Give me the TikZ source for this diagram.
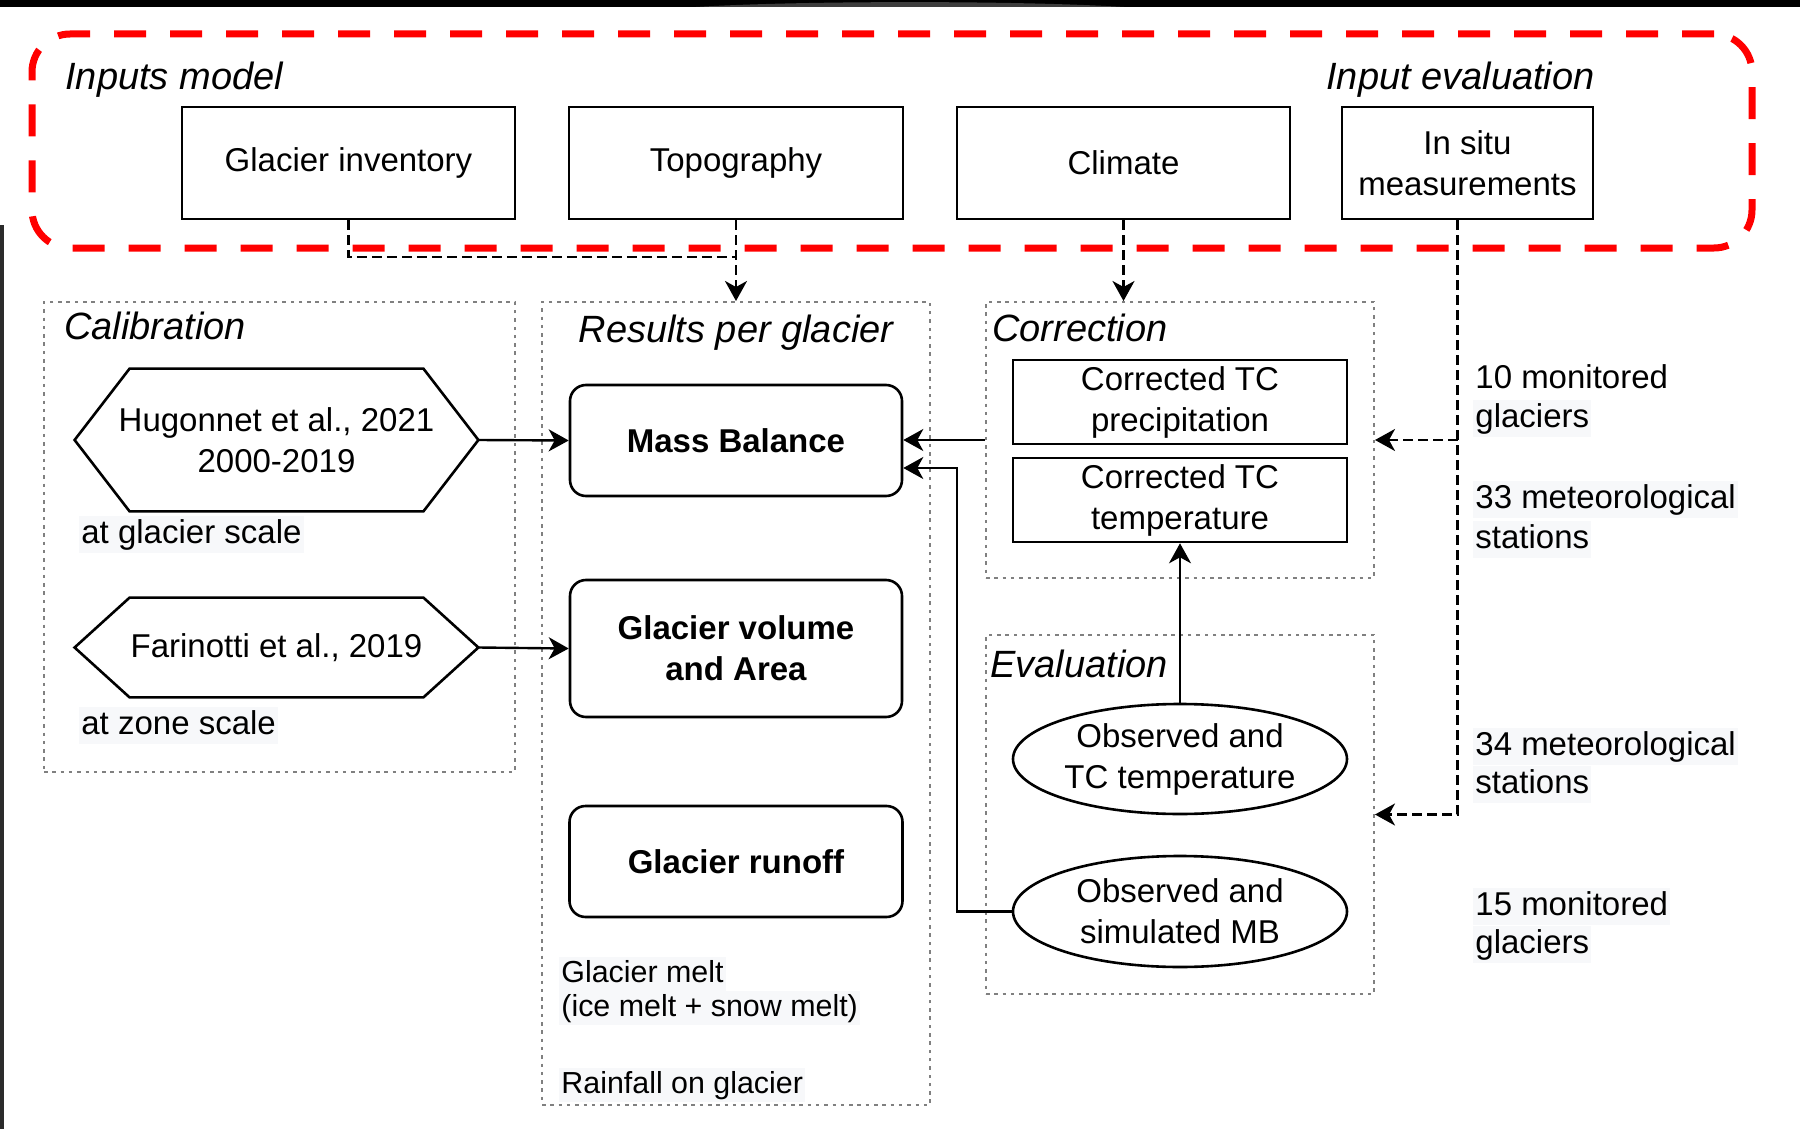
\documentclass[tikz,border=0pt]{standalone}
\usepackage{fontspec}
\setmainfont{Liberation Sans}
\usetikzlibrary{shapes.geometric,arrows.meta}

\definecolor{redline}{HTML}{FF0000}
\definecolor{grpgray}{HTML}{808080}
\definecolor{lblbg}{HTML}{F7F8FA}
\definecolor{edgegray}{HTML}{2B2B2B}
\definecolor{tabgray}{HTML}{3D3D3D}

\newcommand{\boxfont}{\fontsize{16.5pt}{20.5pt}\selectfont}
\newcommand{\smallnotefont}{\fontsize{15.2pt}{19pt}\selectfont}
\newcommand{\headfont}{\fontsize{19pt}{23pt}\selectfont\itshape}

\begin{document}
\begin{tikzpicture}[x=0.5pt, y=-0.5pt,
  inbox/.style={draw, line width=1.3pt, inner sep=2pt, align=center, font=\boxfont},
  resbox/.style={inbox, rounded corners=8pt, font=\boxfont\bfseries},
  grp/.style={draw=grpgray, line width=1pt, dash pattern=on 1.75pt off 2.4pt, inner sep=0pt},
  hexfill/.style={inner sep=0pt, align=center, font=\boxfont},
  hexline/.style={line width=1.3pt, line join=miter},
  oval/.style={ellipse, draw, line width=1.3pt, inner sep=0pt},
  head/.style={font=\headfont, inner sep=0pt, anchor=base west},
  note/.style={font=\boxfont, anchor=base west, fill=lblbg, inner xsep=1pt, inner ysep=0pt, text height=13.5pt, text depth=5pt},
  subnote/.style={note, font=\smallnotefont, text height=12.5pt, text depth=4.5pt},
  tip/.style={-{Stealth[length=10pt,width=11pt,inset=3pt]}},
  flow/.style={line width=1.2pt, tip},
  feed/.style={line width=1.2pt, dash pattern=on 5pt off 2.5pt},
  feedarrow/.style={feed, tip},
]
\useasboundingbox (0,0) rectangle (1800,1129);
\fill[white] (0,0) rectangle (1800,1129);

% window edges
\fill[black] (0,0) rectangle (1800,7);
\fill[tabgray] (696,7) .. controls (800,0.5) and (1020,0.5) .. (1124,7) -- cycle;
\fill[edgegray] (0,225) rectangle (4,1129);

% input boxes
\node[inbox, minimum width=166.5pt, minimum height=56pt] (ginv) at (348.5,163) {Glacier inventory};
\node[inbox, minimum width=167pt, minimum height=56pt] (topo) at (736,163) {Topography};
\node[inbox, minimum width=166.5pt, minimum height=56pt] (clim) at (1123.5,163) {Climate};
\node[inbox, minimum width=125.5pt, minimum height=56pt] (insitu) at (1467.5,163) {In situ\\measurements};

\node[head] (hinputs) at (65,90) {Inputs model};
\node[head] (heval) at (1326,90) {Input evaluation};

% groups
\node[grp, minimum width=235.5pt, minimum height=235pt] (calib) at (279.5,537) {};
\node[grp, minimum width=194pt, minimum height=401.5pt] (results) at (736,703.5) {};
\node[grp, minimum width=194pt, minimum height=138pt] (corr) at (1180,440) {};
\node[grp, minimum width=194pt, minimum height=179.5pt] (evalg) at (1180,814.5) {};

\node[head] (hcal) at (64,339) {Calibration};
\node[head, anchor=base] (hres) at (736,342) {Results per glacier};
\node[head] (hcorr) at (992,341) {Correction};
\node[head] (hevl) at (990,677) {Evaluation};

% calibration sources
\node[hexfill, minimum width=201.5pt, minimum height=71pt] (hug) at (276.5,440) {Hugonnet et al., 2021\\2000-2019};
\draw[hexline] (hug.west) -- ([xshift=27.5pt]hug.north west) -- ([xshift=-27.5pt]hug.north east) -- (hug.east) -- ([xshift=-27.5pt]hug.south east) -- ([xshift=27.5pt]hug.south west) -- cycle;
\node[hexfill, minimum width=201.5pt, minimum height=49.5pt] (far) at (276.5,647.5) {Farinotti et al., 2019};
\draw[hexline] (far.west) -- ([xshift=27.5pt]far.north west) -- ([xshift=-27.5pt]far.north east) -- (far.east) -- ([xshift=-27.5pt]far.south east) -- ([xshift=27.5pt]far.south west) -- cycle;

\node[note] (ngl) at (79,543) {at glacier scale};
\node[note] (nzn) at (79,734) {at zone scale};

% results
\node[resbox, minimum width=166pt, minimum height=55.5pt] (mb) at (736,440.5) {Mass Balance};
\node[resbox, minimum width=166pt, minimum height=68.5pt] (vol) at (736,648.5) {Glacier volume\\and Area};
\node[resbox, minimum width=166.5pt, minimum height=55.5pt] (runoff) at (736,861.5) {Glacier runoff};

\node[subnote] (nmelt) at (559,982) {Glacier melt};
\node[subnote] (nmelt2) at (559,1016) {(ice melt + snow melt)};
\node[subnote] (nrain) at (559,1093) {Rainfall on glacier};

% correction
\node[inbox, minimum width=167pt, minimum height=42pt, inner sep=1pt] (cprec) at (1180,402) {Corrected TC\\precipitation};
\node[inbox, minimum width=167pt, minimum height=42pt, inner sep=1pt] (ctemp) at (1180,500) {Corrected TC\\temperature};

% evaluation
\node[oval, minimum width=167pt, minimum height=55pt,
  label={[font=\boxfont, align=center]center:Observed and\\TC temperature}] (obsT) at (1180,759) {};
\node[oval, minimum width=167pt, minimum height=55.5pt,
  label={[font=\boxfont, align=center]center:Observed and\\simulated MB}] (obsMB) at (1180,911.5) {};

% in situ data
\node[note, fill=none] (s10a) at (1473,388) {10 monitored};
\node[note] (s10b) at (1473,427) {glaciers};
\node[note] (s33a) at (1473,508) {33 meteorological};
\node[note] (s33b) at (1473,548) {stations};
\node[note] (s34a) at (1473,755) {34 meteorological};
\node[note] (s34b) at (1473,793) {stations};
\node[note] (s15a) at (1473,915) {15 monitored\ };
\node[note] (s15b) at (1473,953) {glaciers};

% dashed data feeds
\coordinate (merge) at (736,257);
\draw[feed] (ginv.south) |- (merge);
\draw[feedarrow] (topo.south) -- (results.north);
\draw[feedarrow] (clim.south) -- (clim.south |- corr.north);
\coordinate (tap) at ([xshift=-5pt]insitu.south);
\draw[feedarrow] (tap) |- (evalg.east);
\draw[feedarrow] (tap |- corr.east) -- (corr.east);

% solid flows
\draw[flow] (hug.east) -- (mb.west);
\draw[flow] (far.east) -- (vol.west);
\draw[flow] (corr.west) -- (corr.west -| mb.east);
\coordinate (mbret) at (957,468);
\draw[flow] (obsMB.west) -| (mbret) -- (mbret -| mb.east);
\draw[flow] (obsT.north) -- (ctemp.south);

% model inputs frame
\node[draw=redline, line width=3.5pt, dash pattern=on 16pt off 12pt, rounded corners=19pt,
  minimum width=860pt, minimum height=107pt, inner sep=0pt] (inputs) at (892,141) {};
\end{tikzpicture}
\end{document}
